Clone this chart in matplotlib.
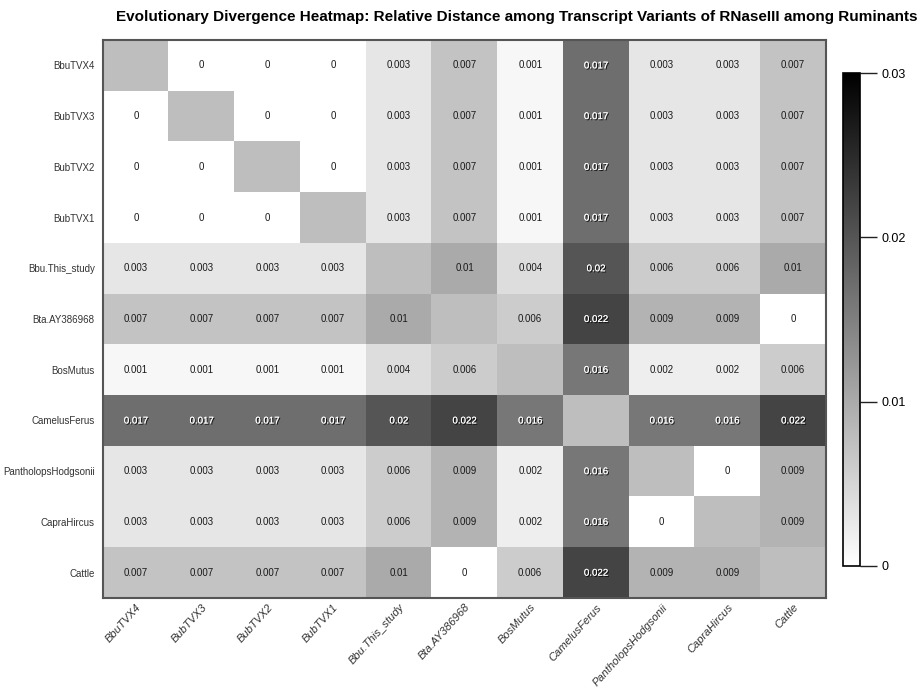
import matplotlib
matplotlib.use("Agg")
import matplotlib.pyplot as plt
import matplotlib.patheffects as pe
import numpy as np

plt.rcParams['font.family'] = ['Liberation Sans', 'DejaVu Sans']

labels = ["BbuTVX4", "BubTVX3", "BubTVX2", "BubTVX1", "Bbu.This_study",
          "Bta.AY386968", "BosMutus", "CamelusFerus", "PantholopsHodgsonii",
          "CapraHircus", "Cattle"]

nan = np.nan
dist = np.array([
    [nan, 0, 0, 0, 0.003, 0.007, 0.001, 0.017, 0.003, 0.003, 0.007],
    [0, nan, 0, 0, 0.003, 0.007, 0.001, 0.017, 0.003, 0.003, 0.007],
    [0, 0, nan, 0, 0.003, 0.007, 0.001, 0.017, 0.003, 0.003, 0.007],
    [0, 0, 0, nan, 0.003, 0.007, 0.001, 0.017, 0.003, 0.003, 0.007],
    [0.003, 0.003, 0.003, 0.003, nan, 0.01, 0.004, 0.02, 0.006, 0.006, 0.01],
    [0.007, 0.007, 0.007, 0.007, 0.01, nan, 0.006, 0.022, 0.009, 0.009, 0],
    [0.001, 0.001, 0.001, 0.001, 0.004, 0.006, nan, 0.016, 0.002, 0.002, 0.006],
    [0.017, 0.017, 0.017, 0.017, 0.02, 0.022, 0.016, nan, 0.016, 0.016, 0.022],
    [0.003, 0.003, 0.003, 0.003, 0.006, 0.009, 0.002, 0.016, nan, 0, 0.009],
    [0.003, 0.003, 0.003, 0.003, 0.006, 0.009, 0.002, 0.016, 0, nan, 0.009],
    [0.007, 0.007, 0.007, 0.007, 0.01, 0, 0.006, 0.022, 0.009, 0.009, nan],
])

vmin, vmax = 0, 0.03
cmap = matplotlib.colormaps["gray_r"].copy()
cmap.set_bad("#bebebe")

fig = plt.figure(figsize=(9.23, 6.88), dpi=100)
W, H = 923, 688
ax = fig.add_axes([103 / W, 1 - 598 / H, (826 - 103) / W, (598 - 40) / H])
im = ax.imshow(np.ma.masked_invalid(dist), cmap=cmap, vmin=vmin, vmax=vmax,
               aspect="auto", interpolation="nearest")

n = len(labels)
for i in range(n):
    for j in range(n):
        v = dist[i, j]
        if np.isnan(v):
            continue
        txt = f"{v:g}"
        if v >= 0.016:
            ax.text(j, i, txt, ha="center", va="center", fontsize=7,
                    color="white",
                    path_effects=[pe.withSimplePatchShadow(offset=(0.8, -0.8),
                                                           shadow_rgbFace="black",
                                                           alpha=0.9),
                                  pe.Normal()])
        else:
            ax.text(j, i, txt, ha="center", va="center", fontsize=7,
                    color="#1a1a1a")

ax.set_xticks(range(n))
ax.set_yticks(range(n))
ax.set_xticklabels(labels, rotation=48, ha="right", rotation_mode="anchor",
                   fontsize=8, style="italic", color="#333333")
ax.set_yticklabels(labels, fontsize=7, color="#333333")
ax.tick_params(axis="x", length=0, pad=3)
ax.tick_params(axis="y", length=0, pad=6)
for s in ax.spines.values():
    s.set_color("#555555")
    s.set_linewidth(1.5)

fig.text(517 / W, 1 - 17 / H,
         "Evolutionary Divergence Heatmap: Relative Distance among Transcript Variants of RNaseIII among Ruminants",
         ha="center", va="center", fontsize=11, fontweight="bold")

cax = fig.add_axes([843 / W, 1 - 566 / H, 17 / W, (566 - 73) / H])
cb = fig.colorbar(im, cax=cax, ticks=[0, 0.01, 0.02, 0.03])
cb.ax.set_yticklabels(["0", "0.01", "0.02", "0.03"])
cb.ax.tick_params(length=12, width=1, labelsize=9, color="#222222")
cb.outline.set_linewidth(1.2)

fig.savefig("out.png", dpi=100)
